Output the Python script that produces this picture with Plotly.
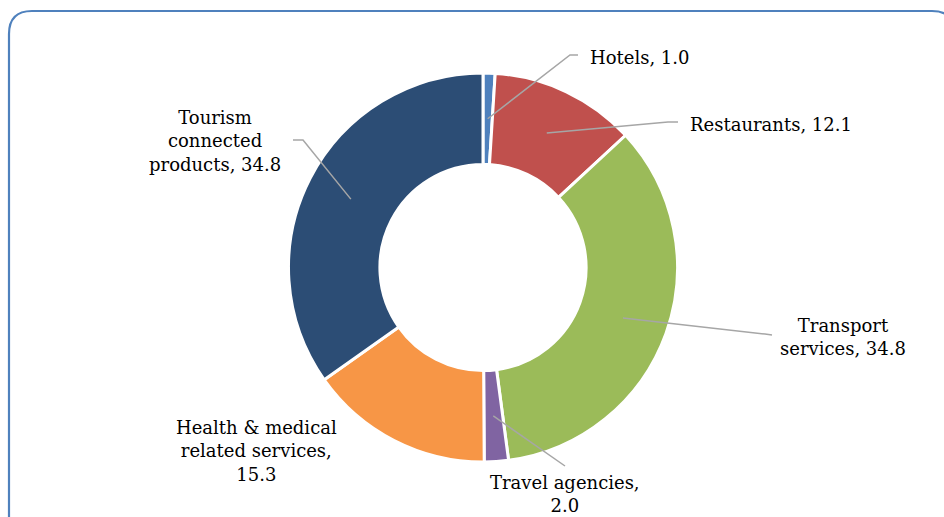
import math
import plotly.graph_objects as go

# ---- data ----
categories = ["Hotels", "Restaurants", "Transport services", "Travel agencies",
              "Health & medical related services", "Tourism connected products"]
values = [1.0, 12.1, 34.8, 2.0, 15.3, 34.8]
label_texts = ["Hotels, 1.0", "Restaurants, 12.1", "Transport<br>services, 34.8",
               "Travel agencies,<br>2.0", "Health & medical<br>related services,<br>15.3",
               "Tourism<br>connected<br>products, 34.8"]
colors = ["#4F81BD", "#C0504D", "#9BBB59", "#8064A2", "#F79646", "#2C4D75"]

W, H = 944, 517
CX, CY, R = 483, 267.5, 194.5
HOLE = 0.53


def px(x):
    return x / W


def py(y):
    return 1 - y / H


fig = go.Figure()
fig.add_trace(go.Pie(
    labels=categories, values=values, sort=False, direction="clockwise", rotation=0,
    hole=HOLE, textinfo="none", hoverinfo="label+value",
    marker=dict(colors=colors, line=dict(color="white", width=3)),
    domain=dict(x=[px(CX - R), px(CX + R)], y=[py(CY + R), py(CY - R)]),
    showlegend=False,
))

# label layout (pixel positions): (x, y, xanchor, leader path after slice point)
layout_info = [
    (588, 57, "left", [(570, 55), (578, 55)]),
    (688, 124, "left", [(668, 122), (678, 122)]),
    (843, 337, "center", [(765, 334), (772, 335)]),
    (565, 494, "center", [(565, 466)]),
    (256, 451, "center", []),
    (215, 141, "center", [(303, 140), (293, 140)]),
]

total = sum(values)
cum = 0.0
rmid = R * (1 + HOLE) / 2
shapes = []
annotations = []
for v, txt, (lx, ly, xa, pts) in zip(values, label_texts, layout_info):
    mid = (cum + v / 2) / total * 2 * math.pi
    cum += v
    sx = CX + rmid * math.sin(mid)
    sy = CY - rmid * math.cos(mid)
    if pts:
        path = "M %f,%f" % (px(sx), py(sy))
        for (x, y) in pts:
            path += " L %f,%f" % (px(x), py(y))
        shapes.append(dict(type="path", xref="paper", yref="paper", path=path,
                           line=dict(color="#A6A6A6", width=1.5)))
    annotations.append(dict(x=px(lx), y=py(ly), xref="paper", yref="paper", text=txt,
                            showarrow=False, xanchor=xa, yanchor="middle", align="center",
                            font=dict(family="DejaVu Serif", size=18, color="#000000")))

# rounded border
x0, y0, x1, y1, rr = 9, 11, 955, 540, 23
bpath = ("M %f,%f L %f,%f Q %f,%f %f,%f L %f,%f Q %f,%f %f,%f L %f,%f" % (
    px(x0), py(y1), px(x0), py(y0 + rr), px(x0), py(y0), px(x0 + rr), py(y0),
    px(x1 - rr), py(y0), px(x1), py(y0), px(x1), py(y0 + rr), px(x1), py(y1)))
shapes.append(dict(type="path", xref="paper", yref="paper", path=bpath,
                   line=dict(color="#4F81BD", width=2.2), layer="below"))

fig.update_layout(width=W, height=H, margin=dict(l=0, r=0, t=0, b=0),
                  paper_bgcolor="white", plot_bgcolor="white",
                  shapes=shapes, annotations=annotations)
fig.write_html("out.html", config={"displayModeBar": False},
               post_script="document.body.style.margin='0';document.body.style.overflow='hidden';")
